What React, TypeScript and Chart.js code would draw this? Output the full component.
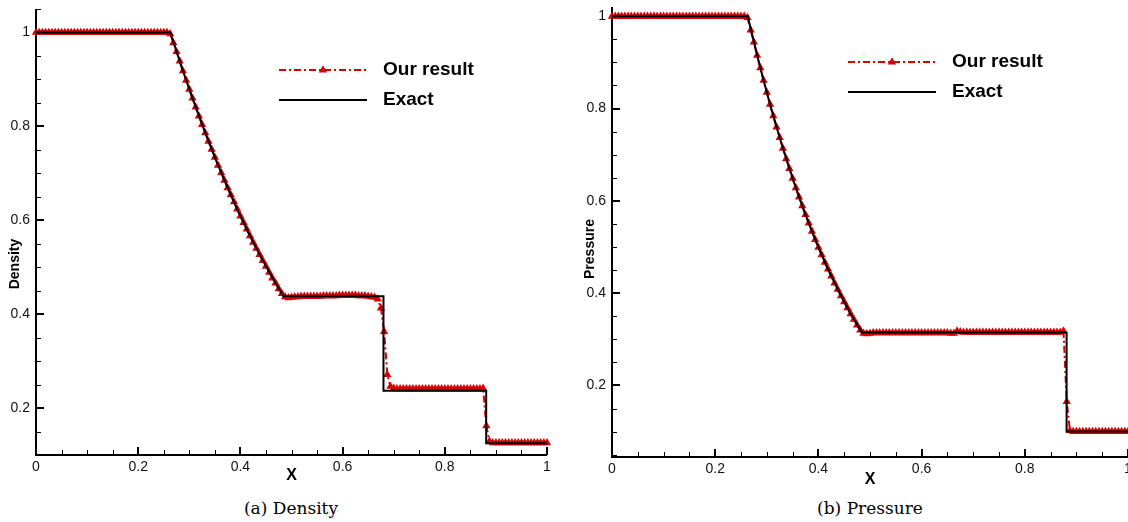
import React, { useEffect, useRef } from 'react';
import { Chart, registerables } from 'chart.js';

Chart.register(...registerables);

// ---------------- data ----------------
const XS = [
  0, 0.00625, 0.0125, 0.01875, 0.025, 0.03125, 0.0375, 0.04375, 0.05, 0.05625, 0.0625, 0.06875, 0.075, 0.08125, 0.0875, 0.09375,
  0.1, 0.10625, 0.1125, 0.11875, 0.125, 0.13125, 0.1375, 0.14375, 0.15, 0.15625, 0.1625, 0.16875, 0.175, 0.18125, 0.1875, 0.19375,
  0.2, 0.20625, 0.2125, 0.21875, 0.225, 0.23125, 0.2375, 0.24375, 0.25, 0.25625, 0.2625, 0.26875, 0.275, 0.28125, 0.2875, 0.29375,
  0.3, 0.30625, 0.3125, 0.31875, 0.325, 0.33125, 0.3375, 0.34375, 0.35, 0.35625, 0.3625, 0.36875, 0.375, 0.38125, 0.3875, 0.39375,
  0.4, 0.40625, 0.4125, 0.41875, 0.425, 0.43125, 0.4375, 0.44375, 0.45, 0.45625, 0.4625, 0.46875, 0.475, 0.48125, 0.4875, 0.49375,
  0.5, 0.50625, 0.5125, 0.51875, 0.525, 0.53125, 0.5375, 0.54375, 0.55, 0.55625, 0.5625, 0.56875, 0.575, 0.58125, 0.5875, 0.59375,
  0.6, 0.60625, 0.6125, 0.61875, 0.625, 0.63125, 0.6375, 0.64375, 0.65, 0.65625, 0.6625, 0.66875, 0.675, 0.68125, 0.6875, 0.69375,
  0.7, 0.70625, 0.7125, 0.71875, 0.725, 0.73125, 0.7375, 0.74375, 0.75, 0.75625, 0.7625, 0.76875, 0.775, 0.78125, 0.7875, 0.79375,
  0.8, 0.80625, 0.8125, 0.81875, 0.825, 0.83125, 0.8375, 0.84375, 0.85, 0.85625, 0.8625, 0.86875, 0.875, 0.88125, 0.8875, 0.89375,
  0.9, 0.90625, 0.9125, 0.91875, 0.925, 0.93125, 0.9375, 0.94375, 0.95, 0.95625, 0.9625, 0.96875, 0.975, 0.98125, 0.9875, 0.99375,
  1,
];

const DENSITY_NUM = [
  1, 1, 1, 1, 1, 1, 1, 1, 1, 1, 1, 1, 1, 1, 1, 1,
  1, 1, 1, 1, 1, 1, 1, 1, 1, 1, 1, 1, 1, 1, 1, 1,
  1, 1, 1, 1, 1, 1, 1, 1, 1, 1, 0.997, 0.978, 0.959, 0.939, 0.918, 0.898,
  0.879, 0.86, 0.841, 0.822, 0.804, 0.786, 0.768, 0.751, 0.734, 0.717, 0.701, 0.685, 0.669, 0.654, 0.639, 0.624,
  0.609, 0.595, 0.581, 0.567, 0.553, 0.54, 0.527, 0.514, 0.502, 0.489, 0.477, 0.466, 0.454, 0.444, 0.437, 0.435,
  0.436, 0.437, 0.437, 0.438, 0.438, 0.438, 0.438, 0.438, 0.438, 0.438, 0.439, 0.439, 0.439, 0.439, 0.439, 0.44,
  0.44, 0.44, 0.44, 0.44, 0.44, 0.439, 0.439, 0.439, 0.438, 0.437, 0.436, 0.432, 0.413, 0.363, 0.271, 0.246,
  0.242, 0.241, 0.241, 0.241, 0.241, 0.241, 0.241, 0.241, 0.241, 0.241, 0.241, 0.241, 0.241, 0.241, 0.241, 0.241,
  0.241, 0.241, 0.241, 0.241, 0.241, 0.241, 0.241, 0.241, 0.241, 0.241, 0.241, 0.241, 0.242, 0.162, 0.129, 0.126,
  0.126, 0.126, 0.126, 0.126, 0.126, 0.126, 0.126, 0.126, 0.126, 0.126, 0.126, 0.126, 0.126, 0.126, 0.126, 0.126,
  0.126,
];

const PRESSURE_NUM = [
  1, 1, 1, 1, 1, 1, 1, 1, 1, 1, 1, 1, 1, 1, 1, 1,
  1, 1, 1, 1, 1, 1, 1, 1, 1, 1, 1, 1, 1, 1, 1, 1,
  1, 1, 1, 1, 1, 1, 1, 1, 1, 1, 0.997, 0.97, 0.944, 0.915, 0.888, 0.861,
  0.835, 0.809, 0.784, 0.76, 0.737, 0.714, 0.691, 0.67, 0.649, 0.628, 0.608, 0.589, 0.57, 0.552, 0.534, 0.516,
  0.499, 0.483, 0.467, 0.452, 0.437, 0.422, 0.408, 0.394, 0.381, 0.368, 0.355, 0.343, 0.331, 0.32, 0.313, 0.312,
  0.313, 0.314, 0.314, 0.314, 0.314, 0.314, 0.314, 0.314, 0.314, 0.314, 0.314, 0.314, 0.314, 0.314, 0.314, 0.314,
  0.314, 0.314, 0.314, 0.314, 0.314, 0.314, 0.314, 0.314, 0.314, 0.313, 0.313, 0.318, 0.316, 0.315, 0.315, 0.315,
  0.315, 0.315, 0.315, 0.315, 0.315, 0.315, 0.315, 0.315, 0.315, 0.315, 0.315, 0.315, 0.315, 0.315, 0.315, 0.315,
  0.315, 0.315, 0.315, 0.315, 0.315, 0.315, 0.315, 0.315, 0.315, 0.315, 0.315, 0.315, 0.318, 0.165, 0.102, 0.1,
  0.1, 0.1, 0.1, 0.1, 0.1, 0.1, 0.1, 0.1, 0.1, 0.1, 0.1, 0.1, 0.1, 0.1, 0.1, 0.1,
  0.1,
];

const DENSITY_EXACT_X = [0, 0.263, 0.2851, 0.3072, 0.3293, 0.3514, 0.3735, 0.3956, 0.4177, 0.4398, 0.4619, 0.484, 0.68, 0.68, 0.881, 0.881, 1];
const DENSITY_EXACT = [1, 1, 0.926, 0.857, 0.792, 0.73, 0.673, 0.619, 0.569, 0.522, 0.479, 0.438, 0.438, 0.237, 0.237, 0.125, 0.125];

const PRESSURE_EXACT_X = [0, 0.263, 0.2851, 0.3072, 0.3293, 0.3514, 0.3735, 0.3956, 0.4177, 0.4398, 0.4619, 0.484, 0.881, 0.881, 1];
const PRESSURE_EXACT = [1, 1, 0.898, 0.805, 0.721, 0.644, 0.574, 0.511, 0.454, 0.403, 0.356, 0.315, 0.315, 0.1, 0.1];

const X_TICKS = [0, 0.2, 0.4, 0.6, 0.8, 1];
const Y_TICKS = [0.2, 0.4, 0.6, 0.8, 1];
const LEGEND_LABELS = ['Our result', 'Exact'];
const X_TITLE = 'X';

// ---------------- styles ----------------
const RED = '#d60000';
const DASH = [7, 3, 2, 3];
const SANS = '"Liberation Sans", Arial, sans-serif';

const fmt = (v: number) => String(Number(v.toFixed(2)));

type PanelCfg = {
  numY: number[];
  exX: number[];
  exY: number[];
  yMin: number;
  yMax: number;
  yTitle: string;
  canvasLeft: number;
  width: number;
  height: number;
  yAxisWidth: number;
  padTop: number;
  padRight: number;
  xAxisHeight: number;
  yTitleX: number;
  yTitleY: number;
  xTitleY: number;
  legendX: number;
  legendY: number;
};

const decorPlugin = {
  id: 'decor',
  beforeDatasetsDraw(chart: any) {
    const { ctx, chartArea, scales } = chart;
    const { left, bottom } = chartArea;
    const xs = scales.x;
    const ys = scales.y;
    ctx.save();
    ctx.strokeStyle = '#000';
    // minor ticks
    ctx.lineWidth = 1;
    for (let k = 0; k <= 20; k++) {
      if (k % 4 === 0) continue;
      const px = Math.round(xs.getPixelForValue(k * 0.05)) + 0.5;
      ctx.beginPath();
      ctx.moveTo(px, bottom);
      ctx.lineTo(px, bottom - 5);
      ctx.stroke();
    }
    const kStart = Math.ceil(ys.min / 0.05 - 1e-6);
    for (let k = kStart; k * 0.05 <= ys.max + 1e-6; k++) {
      if (k % 4 === 0) continue;
      const py = Math.round(ys.getPixelForValue(k * 0.05)) + 0.5;
      ctx.beginPath();
      ctx.moveTo(left, py);
      ctx.lineTo(left + 5, py);
      ctx.stroke();
    }
    // major ticks
    ctx.lineWidth = 2;
    X_TICKS.forEach((v) => {
      const px = Math.round(xs.getPixelForValue(v));
      ctx.beginPath();
      ctx.moveTo(px, bottom);
      ctx.lineTo(px, bottom - 8);
      ctx.stroke();
    });
    Y_TICKS.forEach((v) => {
      const py = Math.round(ys.getPixelForValue(v));
      ctx.beginPath();
      ctx.moveTo(left, py);
      ctx.lineTo(left + 8, py);
      ctx.stroke();
    });
    // axis lines
    ctx.beginPath();
    ctx.moveTo(left, chartArea.top);
    ctx.lineTo(left, bottom);
    ctx.lineTo(chartArea.right, bottom);
    ctx.stroke();
    ctx.restore();
  },
  afterDraw(chart: any, _a: any, opts: any) {
    const { ctx, chartArea } = chart;
    const ds = chart.data.datasets;
    ctx.save();
    // axis titles
    ctx.fillStyle = '#000';
    ctx.font = `bold 16px ${SANS}`;
    ctx.textAlign = 'center';
    ctx.textBaseline = 'middle';
    ctx.fillText(X_TITLE, (chartArea.left + chartArea.right) / 2, opts.xTitleY);
    ctx.save();
    ctx.translate(opts.yTitleX, opts.yTitleY);
    ctx.rotate(-Math.PI / 2);
    ctx.font = `bold 14px ${SANS}`;
    ctx.fillText(opts.yTitle, 0, 0);
    ctx.restore();

    // legend
    const lx = opts.legendX;
    const ly = opts.legendY;
    const len = 88;
    const num = ds[1];
    const ex = ds[0];
    ctx.lineWidth = num.borderWidth;
    ctx.strokeStyle = num.borderColor;
    ctx.setLineDash(num.borderDash);
    ctx.beginPath();
    ctx.moveTo(lx, ly);
    ctx.lineTo(lx + len, ly);
    ctx.stroke();
    ctx.setLineDash([]);
    const cx = lx + len / 2;
    const r = num.pointRadius;
    ctx.fillStyle = num.pointBackgroundColor;
    ctx.beginPath();
    ctx.moveTo(cx, ly - r);
    ctx.lineTo(cx + r * 0.866, ly + r / 2);
    ctx.lineTo(cx - r * 0.866, ly + r / 2);
    ctx.closePath();
    ctx.fill();

    ctx.lineWidth = ex.borderWidth;
    ctx.strokeStyle = ex.borderColor;
    ctx.beginPath();
    ctx.moveTo(lx, ly + 30);
    ctx.lineTo(lx + len, ly + 30);
    ctx.stroke();

    ctx.fillStyle = '#000';
    ctx.font = `bold 19px ${SANS}`;
    ctx.textAlign = 'left';
    ctx.textBaseline = 'middle';
    ctx.fillText(LEGEND_LABELS[0], lx + 104, ly);
    ctx.fillText(LEGEND_LABELS[1], lx + 104, ly + 30);
    ctx.restore();
  },
};

function Panel({ cfg }: { cfg: PanelCfg }) {
  const ref = useRef<HTMLCanvasElement | null>(null);
  useEffect(() => {
    if (!ref.current) return;
    const tickFont = { family: SANS, size: 14 };
    const chart = new Chart(ref.current, {
      type: 'line',
      data: {
        datasets: [
          {
            label: LEGEND_LABELS[1],
            data: cfg.exX.map((x, i) => ({ x, y: cfg.exY[i] })),
            borderColor: '#000',
            borderWidth: 2,
            pointRadius: 0,
            tension: 0,
            order: 0,
          },
          {
            label: LEGEND_LABELS[0],
            data: XS.map((x, i) => ({ x, y: cfg.numY[i] })),
            borderColor: RED,
            borderWidth: 2,
            borderDash: DASH,
            pointStyle: 'triangle',
            pointRadius: 4.8,
            pointBackgroundColor: RED,
            pointBorderColor: RED,
            pointBorderWidth: 0,
            tension: 0,
            order: 1,
            clip: false,
          },
        ],
      } as any,
      options: {
        responsive: false,
        maintainAspectRatio: false,
        animation: false,
        devicePixelRatio: 1,
        events: [],
        layout: { padding: { top: cfg.padTop, right: cfg.padRight, left: 0, bottom: 0 } },
        scales: {
          x: {
            type: 'linear',
            min: 0,
            max: 1,
            grid: { display: false, drawTicks: false },
            border: { display: false },
            afterBuildTicks: (s: any) => {
              s.ticks = X_TICKS.map((v) => ({ value: v }));
            },
            afterFit: (s: any) => {
              s.height = cfg.xAxisHeight;
              s.paddingLeft = 0;
              s.paddingRight = 0;
            },
            ticks: {
              autoSkip: false,
              maxRotation: 0,
              minRotation: 0,
              padding: 4,
              color: '#111',
              font: tickFont,
              callback: (v: any) => fmt(Number(v)),
            },
          },
          y: {
            type: 'linear',
            min: cfg.yMin,
            max: cfg.yMax,
            grid: { display: false, drawTicks: false },
            border: { display: false },
            afterBuildTicks: (s: any) => {
              s.ticks = Y_TICKS.map((v) => ({ value: v }));
            },
            afterFit: (s: any) => {
              s.width = cfg.yAxisWidth;
              s.paddingTop = 0;
              s.paddingBottom = 0;
            },
            ticks: {
              autoSkip: false,
              padding: 6,
              color: '#111',
              font: tickFont,
              callback: (v: any) => fmt(Number(v)),
            },
          },
        },
        plugins: {
          legend: { display: false },
          tooltip: { enabled: false },
          decor: {
            yTitle: cfg.yTitle,
            yTitleX: cfg.yTitleX,
            yTitleY: cfg.yTitleY,
            xTitleY: cfg.xTitleY,
            legendX: cfg.legendX,
            legendY: cfg.legendY,
          },
        } as any,
      },
      plugins: [decorPlugin],
    });
    return () => chart.destroy();
  }, [cfg]);
  return (
    <canvas
      ref={ref}
      width={cfg.width}
      height={cfg.height}
      style={{ position: 'absolute', left: cfg.canvasLeft, top: 0, width: cfg.width, height: cfg.height }}
    />
  );
}

const LEFT_CFG: PanelCfg = {
  numY: DENSITY_NUM,
  exX: DENSITY_EXACT_X,
  exY: DENSITY_EXACT,
  yMin: 0.1,
  yMax: 1.05,
  yTitle: 'Density',
  canvasLeft: 0,
  width: 560,
  height: 490,
  yAxisWidth: 36,
  padTop: 9,
  padRight: 13,
  xAxisHeight: 35,
  yTitleX: 15,
  yTitleY: 264,
  xTitleY: 476,
  legendX: 279,
  legendY: 70,
};

const RIGHT_CFG: PanelCfg = {
  numY: PRESSURE_NUM,
  exX: PRESSURE_EXACT_X,
  exY: PRESSURE_EXACT,
  yMin: 0.045,
  yMax: 1.02,
  yTitle: 'Pressure',
  canvasLeft: 565,
  width: 576,
  height: 490,
  yAxisWidth: 47,
  padTop: 7,
  padRight: 13,
  xAxisHeight: 33,
  yTitleX: 25,
  yTitleY: 249,
  xTitleY: 480,
  legendX: 283,
  legendY: 62,
};

const captionStyle: React.CSSProperties = {
  position: 'absolute',
  top: 497,
  width: 240,
  textAlign: 'center',
  fontFamily: '"DejaVu Serif", "Liberation Serif", serif',
  fontSize: 17,
  lineHeight: '22px',
  color: '#000',
};

export default function App() {
  return (
    <div style={{ position: 'absolute', left: 0, top: 0, width: 1128, height: 522, background: '#fff', overflow: 'hidden' }}>
      <Panel cfg={LEFT_CFG} />
      <Panel cfg={RIGHT_CFG} />
      <div style={{ ...captionStyle, left: 291 - 120 }}>(a) Density</div>
      <div style={{ ...captionStyle, left: 870 - 120 }}>(b) Pressure</div>
    </div>
  );
}
